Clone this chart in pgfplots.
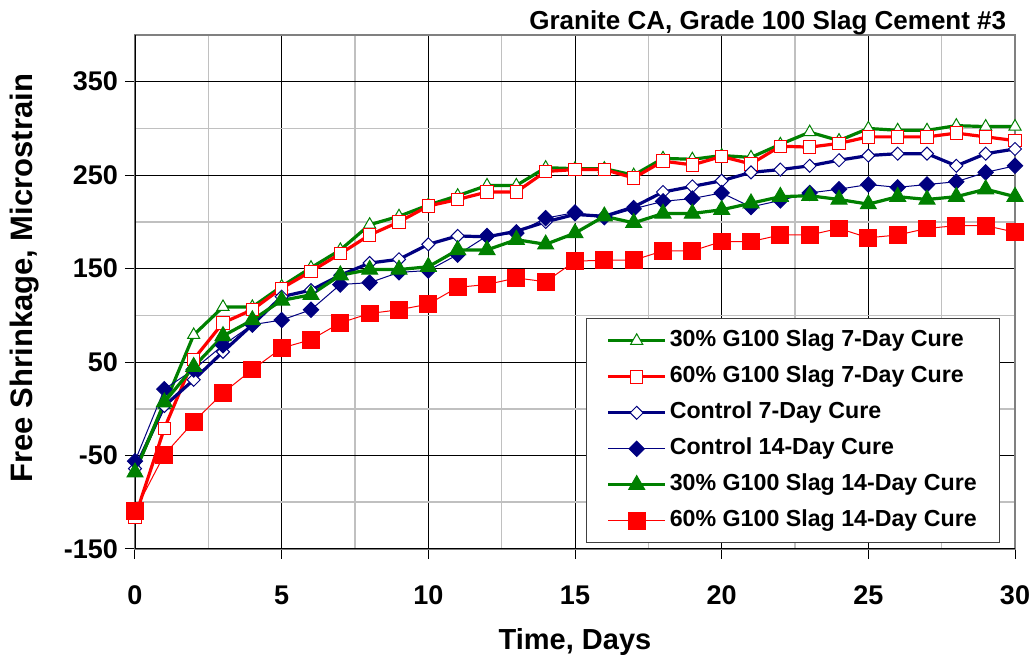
\documentclass[border=0pt]{standalone}
\usepackage{fontspec}
\setmainfont{Liberation Sans}
\usepackage{pgfplots}
\usepackage{pgfplotstable}
\pgfplotsset{compat=1.18}
\definecolor{xlgreen}{RGB}{0,128,0}
\definecolor{xlred}{RGB}{255,0,0}
\definecolor{xlnavy}{RGB}{0,0,128}
\definecolor{xlgrid}{RGB}{192,192,192}
\pgfplotstableread{
d A B C D E F
0 -66 -116 -64 -56 -68 -109
1 4 -21 3 21 7 -49
2 79 53 31 42 45 -14
3 109 92 61 68 78 17
4 109 106 90 90 95 42
5 131 129 120 95 116 65
6 151 147 127 106 122 74
7 170 166 143 133 143 92
8 197 186 156 135 149 102
9 206 200 160 146 149 106
10 218 217 176 148 152 112
11 228 224 185 165 170 130
12 239 232 184 185 170 133
13 239 232 190 188 181 140
14 258 254 200 204 176 136
15 257 256 208 210 188 158
16 257 256 206 205 206 159
17 250 247 216 214 199 159
18 268 265 232 222 209 169
19 267 261 238 225 209 169
20 271 270 244 231 213 179
21 269 262 253 216 220 179
22 283 281 256 223 227 186
23 296 280 260 231 228 186
24 287 284 266 235 224 193
25 300 291 271 240 219 183
26 298 291 273 237 227 186
27 298 291 273 240 224 193
28 303 295 260 243 227 196
29 302 291 273 253 235 196
30 302 287 278 260 227 189
}\datatable
\begin{document}
\begin{tikzpicture}
\begin{axis}[
  scale only axis, width=440pt, height=257pt,
  xmin=0, xmax=30, ymin=-150, ymax=400,
  xtick={0,5,...,30}, minor xtick={2.5,7.5,...,27.5},
  ytick={-150,-50,...,350}, minor ytick={-100,0,...,400},
  grid=both,
  major grid style={black, line width=0.4pt},
  minor grid style={xlgrid, line width=0.8pt},
  tick pos=left, tick align=outside,
  major tick length=5pt, minor tick length=0pt,
  tick style={black, line width=0.5pt},
  axis line style={draw=gray, line width=0.6pt},
  /pgf/number format/assume math mode=true,
  ticklabel style={font=\fontsize{13.5}{16}\selectfont\bfseries},
  xticklabel style={yshift=-10pt},
  xlabel={Time, Days},
  xlabel style={at={(axis description cs:0.5,-0.1946)}, anchor=base, font=\fontsize{14.5}{17}\selectfont\bfseries},
  ylabel={Free Shrinkage, Microstrain},
  ylabel style={at={(axis description cs:-0.117,0.527)}, anchor=base, font=\fontsize{15.5}{18}\selectfont\bfseries},
  title={Granite CA, Grade 100 Slag Cement \#3},
  title style={at={(axis description cs:0.998,0.988)}, anchor=base east, font=\fontsize{13}{15}\selectfont\bfseries},
  legend style={at={(0.5125,0.449)}, anchor=north west, draw=black!75, line width=0.6pt, fill=white,
    font=\fontsize{11.6}{14}\selectfont\bfseries, inner xsep=10pt, inner ysep=2pt,
    nodes={inner xsep=1.5pt, inner ysep=3pt, text height=9pt, text depth=3pt}, cells={anchor=west}},
  legend image code/.code={\draw[mark repeat=2, mark phase=2, #1] plot coordinates {(0pt,0pt) (14.25pt,0pt) (28.5pt,0pt)};},
]
\draw[black, line width=0.6pt] (rel axis cs:0,1) -- (rel axis cs:0,0) -- (rel axis cs:1,0);
\coordinate (sw) at (rel axis cs:0,0);
\coordinate (ne) at (rel axis cs:1,1);
\addplot[color=xlgreen, line width=1.6pt, mark=triangle*, mark size=3.5pt, mark options={line width=0.5pt, fill=white}] table[x=d, y=A] {\datatable};
\addlegendentry{30\% G100 Slag 7-Day Cure}
\addplot[color=xlred, line width=1.6pt, mark=square*, mark size=3.1pt, mark options={line width=0.5pt, fill=white}] table[x=d, y=B] {\datatable};
\addlegendentry{60\% G100 Slag 7-Day Cure}
\addplot[color=xlnavy, line width=1.6pt, mark=square*, mark size=2.3pt, mark options={rotate=45, line width=0.5pt, fill=white}] table[x=d, y=C] {\datatable};
\addlegendentry{Control 7-Day Cure}
\addplot[color=xlnavy, line width=0.5pt, mark=square*, mark size=2.7pt, mark options={rotate=45, fill=xlnavy}] table[x=d, y=D] {\datatable};
\addlegendentry{Control 14-Day Cure}
\addplot[color=xlgreen, line width=1.6pt, mark=triangle*, mark size=4.6pt, mark options={line width=0.5pt, fill=xlgreen}] table[x=d, y=E] {\datatable};
\addlegendentry{30\% G100 Slag 14-Day Cure}
\addplot[color=xlred, line width=0.5pt, mark=square*, mark size=4.2pt, mark options={fill=xlred}] table[x=d, y=F] {\datatable};
\addlegendentry{60\% G100 Slag 14-Day Cure}
\end{axis}
\pgfresetboundingbox
\path[use as bounding box] ([shift={(-67.5pt,-53.5pt)}]sw) rectangle ([shift={(10.5pt,17.5pt)}]ne);
\end{tikzpicture}
\end{document}
